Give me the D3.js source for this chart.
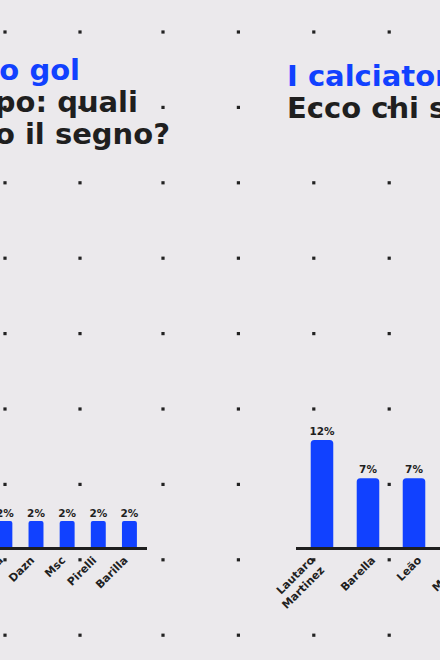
<!DOCTYPE html>
<html>
<head>
<meta charset="utf-8">
<script src="https://cdn.jsdelivr.net/npm/d3@7"></script>
<style>
  body { margin: 0; background: #ebe9ec; }
  svg { display: block; font-family: "DejaVu Sans", Inter, sans-serif; }
</style>
</head>
<body>
<div id="chart"></div>
<script>
// left slide: brands (only its right end is in view)
var brands = ["Puma", "Dazn", "Msc", "Pirelli", "Barilla"];
var brandValues = [2, 2, 2, 2, 2];
var brandTitle = ["Non solo gol", "Sponsor in campo: quali", "brand hanno lasciato il segno?"];

// right slide: players
var players = ["Lautaro Martinez", "Barella", "Leão", "Morata"];
var playerValues = [11.5, 7.4, 7.4, 5];
var playerTitle = ["I calciatori più citati", "Ecco chi si è fatto notare"];

var width = 440, height = 660;
var blue = "#1141ff", ink = "#1f1f1f";

var svg = d3.select("#chart")
    .append("svg")
    .attr("width", width)
    .attr("height", height);

svg.append("rect")
    .attr("width", width)
    .attr("height", height)
    .attr("fill", "#ebe9ec");

// dotted background grid
var step = 75.4;
var dotX = [5, 80].concat(d3.range(4).map(function (i) { return 163 + step * i; }));
var dotY = d3.range(9).map(function (j) { return 32 + step * j; });
var dots = [];
dotX.forEach(function (x) {
    dotY.forEach(function (y) { dots.push([x, y]); });
});
svg.append("g").selectAll("rect")
    .data(dots)
    .enter()
    .append("rect")
    .attr("x", function (d) { return d[0] - 1.6; })
    .attr("y", function (d) { return d[1] - 1.6; })
    .attr("width", 3.2)
    .attr("height", 3.2)
    .attr("fill", "#222");

// rounded-top bar path
function barPath(x, y, w, h, r) {
    return "M" + x + "," + (y + h) +
        "V" + (y + r) +
        "Q" + x + "," + y + " " + (x + r) + "," + y +
        "H" + (x + w - r) +
        "Q" + (x + w) + "," + y + " " + (x + w) + "," + (y + r) +
        "V" + (y + h) + "Z";
}

function drawBars(opt) {
    var g = svg.append("g");
    var x = d3.scaleBand()
        .domain(opt.cats)
        .range(opt.xRange)
        .paddingInner(opt.padIn)
        .paddingOuter(opt.padOut);
    var y = d3.scaleLinear()
        .domain([0, 10])
        .range([opt.base, opt.base - opt.perTen]);

    g.selectAll("path")
        .data(opt.values)
        .enter()
        .append("path")
        .attr("d", function (d, i) {
            return barPath(x(opt.cats[i]), y(d), x.bandwidth(), opt.base - y(d), opt.r);
        })
        .attr("fill", blue);

    g.selectAll(".val")
        .data(opt.values)
        .enter()
        .append("text")
        .attr("class", "val")
        .attr("x", function (d, i) { return x(opt.cats[i]) + x.bandwidth() / 2; })
        .attr("y", function (d) { return y(d) - opt.valGap; })
        .attr("text-anchor", "middle")
        .attr("font-size", opt.valSize)
        .attr("font-weight", 700)
        .attr("fill", ink)
        .text(function (d) { return Math.round(d) + "%"; });

    g.append("rect")
        .attr("x", opt.lineFrom)
        .attr("y", opt.base)
        .attr("width", opt.lineTo - opt.lineFrom)
        .attr("height", 3)
        .attr("fill", ink);

    // rotated category labels, long names wrap to two lines
    opt.cats.forEach(function (c) {
        var words = c.split(" ");
        var n = words.length;
        var cx = x(c) + x.bandwidth() / 2;
        words.forEach(function (w, i) {
            var ax = cx + opt.labDx - 15 * (n - 1) + 10 * i;
            var ay = opt.base + 14 + 10 * i;
            g.append("text")
                .attr("transform", "translate(" + ax + "," + ay + ") rotate(-45)")
                .attr("text-anchor", "end")
                .attr("font-size", opt.labSize)
                .attr("font-weight", 700)
                .attr("fill", ink)
                .text(w);
        });
    });
}

drawBars({
    cats: brands, values: brandValues,
    xRange: [-10.7, 145], padIn: 0.52, padOut: 0.26,
    base: 547, perTen: 130, r: 2,
    valGap: 4, valSize: 10.5, labSize: 11, labDx: -1,
    lineFrom: -10, lineTo: 147
});

drawBars({
    cats: players, values: playerValues,
    xRange: [296, 486], padIn: 0.51, padOut: 0.32,
    base: 547, perTen: 93, r: 3.5,
    valGap: 5, valSize: 10.5, labSize: 11, labDx: 8,
    lineFrom: 296, lineTo: 500
});

// titles
function titleLine(txt, x, y, anchor, color) {
    svg.append("text")
        .attr("x", x)
        .attr("y", y)
        .attr("text-anchor", anchor)
        .attr("font-size", 29)
        .attr("font-weight", 700)
        .attr("fill", color)
        .text(txt);
}
titleLine(brandTitle[0], 80, 80, "end", blue);
titleLine(brandTitle[1], 138, 112, "end", ink);
titleLine(brandTitle[2], 170, 144, "end", ink);
titleLine(playerTitle[0], 287, 86, "start", blue);
titleLine(playerTitle[1], 287, 118, "start", ink);
</script>
</body>
</html>
